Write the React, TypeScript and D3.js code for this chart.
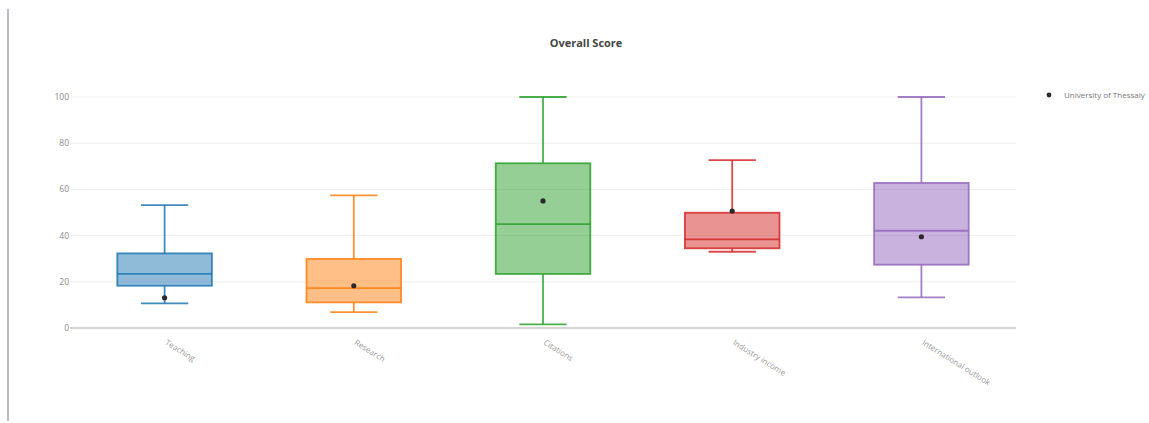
import React from "react";
import * as d3 from "d3";

const categories = ["Teaching", "Research", "Citations", "Industry income", "International outlook"];
const lowerWhisker = [10.7, 6.9, 1.6, 33.0, 13.3];
const q1 = [18.3, 11.1, 23.4, 34.5, 27.4];
const median = [23.4, 17.3, 45.0, 38.4, 42.1];
const q3 = [32.3, 29.9, 71.3, 49.9, 62.8];
const upperWhisker = [53.2, 57.4, 100, 72.7, 100];
const universityScore = [13.1, 18.3, 55.0, 50.6, 39.5];
const colors = ["#1f77b4", "#ff7f0e", "#2ca02c", "#d62728", "#9467bd"];
const yTicks = [0, 20, 40, 60, 80, 100];
const legendLabel = "University of Thessaly";
const title = "Overall Score";

export default function App() {
  const W = 1149, H = 423;
  const left = 70, right = 1016, top = 97, bottom = 328;
  const x = d3.scaleBand<string>().domain(categories).range([left, right]);
  const y = d3.scaleLinear().domain([0, 100]).range([bottom, top]);
  const bw = x.bandwidth();
  const font = "'Open Sans', sans-serif";

  return (
    <svg width={W} height={H} style={{ position: "absolute", left: 0, top: 0, fontFamily: font }}>
      <rect x={0} y={0} width={W} height={H} fill="#fff" />
      <line x1={8} x2={8} y1={9} y2={421} stroke="#b9bec4" strokeWidth={2} />
      <text x={586} y={47} textAnchor="middle" fontSize={11} fontWeight="bold" fill="#444">{title}</text>
      {yTicks.map((t) => (
        <g key={t}>
          {t > 0 && <line x1={left} x2={right} y1={y(t)} y2={y(t)} stroke="#eeeeee" strokeWidth={1} />}
          <text x={left - 1} y={y(t)} dy="0.35em" textAnchor="end" fontSize={8.5} fill="#888">{t}</text>
        </g>
      ))}
      <line x1={left} x2={right} y1={bottom} y2={bottom} stroke="#a8a8a8" strokeWidth={1.2} />
      {categories.map((c, i) => {
        const cx = (x(c) as number) + bw / 2;
        const bx = cx - bw / 4;
        const capHalf = bw / 8;
        const col = colors[i];
        return (
          <g key={c}>
            <g stroke={col} strokeWidth={1.8} strokeOpacity={0.85}>
              <line x1={cx} x2={cx} y1={y(upperWhisker[i])} y2={y(q3[i])} />
              <line x1={cx} x2={cx} y1={y(q1[i])} y2={y(lowerWhisker[i])} />
              <line x1={cx - capHalf} x2={cx + capHalf} y1={y(upperWhisker[i])} y2={y(upperWhisker[i])} />
              <line x1={cx - capHalf} x2={cx + capHalf} y1={y(lowerWhisker[i])} y2={y(lowerWhisker[i])} />
              <rect x={bx} y={y(q3[i])} width={bw / 2} height={y(q1[i]) - y(q3[i])} fill={col} fillOpacity={0.5} />
              <line x1={bx} x2={bx + bw / 2} y1={y(median[i])} y2={y(median[i])} />
            </g>
            <circle cx={cx} cy={y(universityScore[i])} r={2.6} fill="#2a2a2a" />
            <text x={cx} y={bottom + 16} transform={`rotate(32 ${cx} ${bottom + 16})`} fontSize={8} fill="#999">{c}</text>
          </g>
        );
      })}
      <circle cx={1049} cy={95} r={2.4} fill="#2a2a2a" />
      <text x={1064} y={95} dy="0.35em" fontSize={8} fill="#777">{legendLabel}</text>
    </svg>
  );
}
